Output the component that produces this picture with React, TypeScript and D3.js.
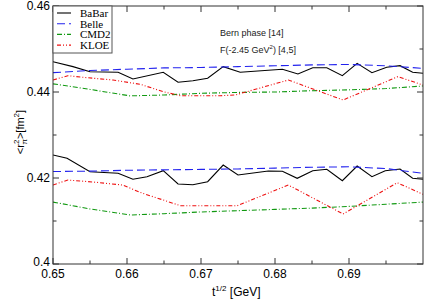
import React from 'react';
import * as d3 from 'd3';

const W = 425;
const H = 300;
const margin = { top: 6, right: 2, bottom: 36, left: 53 };

// upper band (Bern phase)
const babarUpX = [0.65, 0.6527, 0.655, 0.6588, 0.6608, 0.6649, 0.6669, 0.6689, 0.6709, 0.673, 0.6753, 0.681, 0.6831, 0.6851, 0.687, 0.6891, 0.6911, 0.6931, 0.6951, 0.6969, 0.6986, 0.7];
const babarUpY = [0.44705, 0.4459, 0.44472, 0.44458, 0.44302, 0.44458, 0.44226, 0.4426, 0.4432, 0.44589, 0.44458, 0.44528, 0.44419, 0.44565, 0.44565, 0.44379, 0.44667, 0.4445, 0.44575, 0.44612, 0.44458, 0.44435];
const belleUpX = [0.65, 0.655, 0.66, 0.665, 0.67, 0.675, 0.68, 0.685, 0.69, 0.695, 0.7];
const belleUpY = [0.4445, 0.445, 0.4453, 0.4456, 0.4457, 0.4459, 0.4461, 0.4463, 0.4464, 0.4461, 0.4455];
const cmd2UpX = [0.65, 0.655, 0.6604, 0.665, 0.67, 0.675, 0.68, 0.685, 0.69, 0.695, 0.7];
const cmd2UpY = [0.4419, 0.4406, 0.4391, 0.4393, 0.4397, 0.4399, 0.44, 0.4403, 0.4405, 0.4408, 0.4414];
const kloeUpX = [0.65, 0.652, 0.6546, 0.6581, 0.6618, 0.6649, 0.6672, 0.6726, 0.6746, 0.6818, 0.6892, 0.6966, 0.7];
const kloeUpY = [0.44279, 0.44379, 0.44333, 0.44279, 0.44179, 0.44007, 0.43914, 0.43914, 0.4393, 0.44279, 0.43814, 0.44356, 0.44163];

// lower band
const babarLoX = [0.65, 0.6519, 0.655, 0.6588, 0.6608, 0.6627, 0.6649, 0.6669, 0.6689, 0.6709, 0.673, 0.675, 0.6791, 0.681, 0.683, 0.6851, 0.687, 0.6891, 0.6911, 0.6931, 0.6949, 0.6969, 0.6986, 0.7];
const babarLoY = [0.42535, 0.42458, 0.42147, 0.42109, 0.4197, 0.4203, 0.4217, 0.4186, 0.41844, 0.41914, 0.42302, 0.4207, 0.42163, 0.42156, 0.41993, 0.4217, 0.42202, 0.41937, 0.42279, 0.4203, 0.4217, 0.42209, 0.41993, 0.4197];
const belleLoX = [0.65, 0.655, 0.66, 0.665, 0.67, 0.675, 0.68, 0.685, 0.69, 0.695, 0.7];
const belleLoY = [0.4215, 0.4216, 0.4218, 0.4219, 0.422, 0.4221, 0.4223, 0.4225, 0.4226, 0.4222, 0.4211];
const cmd2LoX = [0.65, 0.655, 0.6605, 0.665, 0.67, 0.675, 0.68, 0.685, 0.69, 0.695, 0.7];
const cmd2LoY = [0.4144, 0.4128, 0.4114, 0.4117, 0.4121, 0.4124, 0.4127, 0.413, 0.4134, 0.4139, 0.4144];
const kloeLoX = [0.65, 0.652, 0.6554, 0.6594, 0.6621, 0.6649, 0.6672, 0.6726, 0.6749, 0.6818, 0.6892, 0.6965, 0.7];
const kloeLoY = [0.41837, 0.41953, 0.41907, 0.41837, 0.41644, 0.41488, 0.41356, 0.41356, 0.41356, 0.41837, 0.41163, 0.41891, 0.41621];

const xTicks = [0.65, 0.66, 0.67, 0.68, 0.69];
const yTicks = [0.4, 0.42, 0.44, 0.46];

const series = [
  { name: 'BaBar', color: '#000000', dash: '', xs: [babarUpX, babarLoX], ys: [babarUpY, babarLoY] },
  { name: 'Belle', color: '#2222ee', dash: '8,4', xs: [belleUpX, belleLoX], ys: [belleUpY, belleLoY] },
  { name: 'CMD2', color: '#119911', dash: '5,2,1,2', xs: [cmd2UpX, cmd2LoX], ys: [cmd2UpY, cmd2LoY] },
  { name: 'KLOE', color: '#ee1111', dash: '4,2,1,2,1,2', xs: [kloeUpX, kloeLoX], ys: [kloeUpY, kloeLoY] },
];

export default function App() {
  const x = d3.scaleLinear().domain([0.65, 0.7]).range([margin.left, W - margin.right]);
  const y = d3.scaleLinear().domain([0.4, 0.46]).range([H - margin.bottom, margin.top]);
  const line = d3
    .line<[number, number]>()
    .x((d) => x(d[0]))
    .y((d) => y(d[1]));

  const x0 = x.range()[0];
  const x1 = x.range()[1];
  const y0 = y.range()[0];
  const y1 = y.range()[1];
  const xMinor = d3.range(0.655, 0.7, 0.01);
  const yMinor = d3.range(0.41, 0.46, 0.02);
  const sans = 'Liberation Sans, Arial, sans-serif';

  return (
    <svg width={W} height={H} style={{ position: 'absolute', left: 0, top: 0 }}>
      <rect width={W} height={H} fill="#fff" />
      <defs>
        <clipPath id="plot">
          <rect x={x0} y={y1} width={x1 - x0} height={y0 - y1} />
        </clipPath>
      </defs>
      <g clipPath="url(#plot)">
        {series.map((s) =>
          s.xs.map((xs, k) => (
            <path
              key={`${s.name}-${k}`}
              d={line(xs.map((v, i) => [v, s.ys[k][i]] as [number, number])) || ''}
              fill="none"
              stroke={s.color}
              strokeWidth={1.1}
              strokeDasharray={s.dash}
            />
          ))
        )}
      </g>
      {/* ticks */}
      <g stroke="#333" strokeWidth={1}>
        {xTicks.map((t) => (
          <React.Fragment key={`xt${t}`}>
            <line x1={x(t)} x2={x(t)} y1={y0} y2={y0 - 6} />
            <line x1={x(t)} x2={x(t)} y1={y1} y2={y1 + 6} />
          </React.Fragment>
        ))}
        {xMinor.map((t) => (
          <React.Fragment key={`xm${t}`}>
            <line x1={x(t)} x2={x(t)} y1={y0} y2={y0 - 3.5} />
            <line x1={x(t)} x2={x(t)} y1={y1} y2={y1 + 3.5} />
          </React.Fragment>
        ))}
        {yTicks.map((t) => (
          <React.Fragment key={`yt${t}`}>
            <line x1={x0} x2={x0 + 6} y1={y(t)} y2={y(t)} />
            <line x1={x1} x2={x1 - 6} y1={y(t)} y2={y(t)} />
          </React.Fragment>
        ))}
        {yMinor.map((t) => (
          <React.Fragment key={`ym${t}`}>
            <line x1={x0} x2={x0 + 3.5} y1={y(t)} y2={y(t)} />
            <line x1={x1} x2={x1 - 3.5} y1={y(t)} y2={y(t)} />
          </React.Fragment>
        ))}
      </g>
      <rect x={x0} y={y1} width={x1 - x0} height={y0 - y1} fill="none" stroke="#333" strokeWidth={1} />
      {/* tick labels */}
      <g fontFamily={sans} fontSize={12} fill="#000">
        {xTicks.map((t) => (
          <text key={`xl${t}`} x={x(t)} y={y0 + 14} textAnchor="middle">
            {t.toFixed(2)}
          </text>
        ))}
        {yTicks.map((t) => (
          <text key={`yl${t}`} x={x0 - 3} y={y(t) + (t === 0.4 ? 2 : 4)} textAnchor="end">
            {t === 0.4 ? '0.4' : t.toFixed(2)}
          </text>
        ))}
      </g>
      {/* axis titles */}
      <text x={212} y={296} fontFamily={sans} fontSize={12}>
        t<tspan fontSize={8} dy={-5}>1/2</tspan>
        <tspan dy={5}> [GeV]</tspan>
      </text>
      <text transform={`translate(24,132) rotate(-90)`} fontFamily={sans} fontSize={11} textAnchor="middle">
        {'<r'}
        <tspan fontSize={8} dy={-5} dx={0}>2</tspan>
        <tspan fontSize={8} dy={8} dx={-5}>π</tspan>
        <tspan dy={-3}>{'>[fm'}</tspan>
        <tspan fontSize={8} dy={-5}>2</tspan>
        <tspan dy={5}>]</tspan>
      </text>
      {/* annotation */}
      <g fontFamily={sans} fontSize={9} fill="#222">
        <text x={220} y={36}>Bern phase [14]</text>
        <text x={220} y={53}>
          F(-2.45 GeV<tspan fontSize={6} dy={-4}>2</tspan>
          <tspan dy={4}>) [4,5]</tspan>
        </text>
      </g>
      {/* legend */}
      <g>
        <rect x={x0} y={y1} width={59} height={47} fill="#fff" stroke="#555" strokeWidth={1} />
        {series.map((s, i) => (
          <g key={`lg${s.name}`} transform={`translate(0,${13 + i * 10.7})`}>
            <line x1={57} x2={71} y1={0} y2={0} stroke={s.color} strokeWidth={1.1} strokeDasharray={s.dash} />
            <text x={80} y={4} fontFamily="Liberation Serif, Times New Roman, serif" fontSize={11}>
              {s.name}
            </text>
          </g>
        ))}
      </g>
    </svg>
  );
}
